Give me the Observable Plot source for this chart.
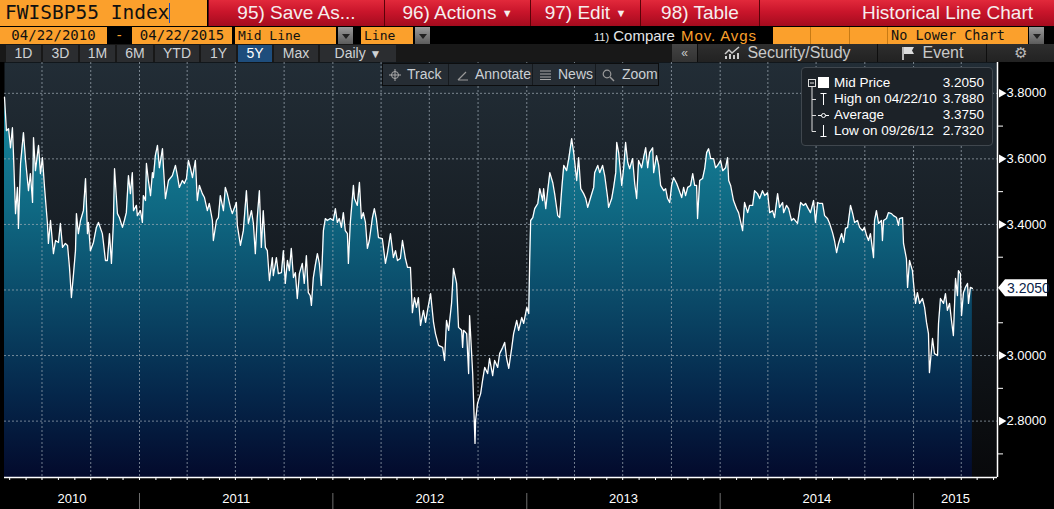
<!DOCTYPE html>
<html>
<head>
<meta charset="utf-8">
<script src="https://cdn.jsdelivr.net/npm/d3@7"></script>
<script src="https://cdn.jsdelivr.net/npm/@observablehq/plot@0.6"></script>
<style>
html,body{margin:0;padding:0;background:#000;}
body{position:relative;width:1054px;height:509px;overflow:hidden;font-family:"Liberation Sans",Arial,sans-serif;}
.a{position:absolute;box-sizing:border-box;white-space:nowrap;}
.org{background:#fba02c;color:#111;font-family:"DejaVu Sans Mono",monospace;top:27px;height:17px;line-height:17px;}
.red{top:0;height:26px;background:linear-gradient(#e2293b 0%,#c9152b 45%,#a50b1e 100%);color:#f6eeee;font-size:19px;line-height:26px;text-align:center;border-left:1px solid #5a0208;}
.dd{background:linear-gradient(#9a9a9a,#5c5c5c);height:17px;top:27px;width:15px;}
.dd::after{content:"";position:absolute;left:4px;top:7px;border-left:4px solid transparent;border-right:4px solid transparent;border-top:5px solid #222;}
.btn{top:45px;height:17px;background:#2b2d30;color:#cfd2d4;font-size:14px;line-height:17px;text-align:center;}
.rbtn{top:44px;height:18px;background:linear-gradient(#2e2e2e,#222);color:#c9c9c9;font-size:16px;line-height:18px;text-align:center;border-right:1px solid #0e0e0e;}
.tb{top:0;height:21px;line-height:21px;color:#cbd0d4;font-size:14px;}
.lg{font-size:13.5px;color:#fff;height:16px;line-height:16px;}
</style>
</head>
<body>
<svg width="0" height="0" style="position:absolute">
  <defs>
    <linearGradient id="bgGrad" x1="0" y1="0" x2="0" y2="1">
      <stop offset="0" stop-color="#222d36"/>
      <stop offset="0.5" stop-color="#151b21"/>
      <stop offset="1" stop-color="#08090b"/>
    </linearGradient>
    <linearGradient id="areaGrad" x1="0" y1="0" x2="0" y2="1">
      <stop offset="0" stop-color="#17889e"/>
      <stop offset="0.3" stop-color="#0f6882"/>
      <stop offset="0.55" stop-color="#0a4766"/>
      <stop offset="0.78" stop-color="#05274b"/>
      <stop offset="1" stop-color="#030a2c"/>
    </linearGradient>
  </defs>
</svg>

<!-- row 1 -->
<div class="a org" style="left:0;top:0;width:207px;height:26px;line-height:26px;font-size:19.5px;padding-left:5px;">FWISBP55 Index<span style="display:inline-block;width:1px;height:20px;background:#1a4fd0;vertical-align:-4px;"></span></div>
<div class="a red" style="left:208px;width:176px;">95) Save As...</div>
<div class="a red" style="left:384px;width:146px;">96) Actions <span style="font-size:11px;vertical-align:2px">▼</span></div>
<div class="a red" style="left:530px;width:110px;">97) Edit <span style="font-size:11px;vertical-align:2px">▼</span></div>
<div class="a red" style="left:640px;width:119px;">98) Table</div>
<div class="a red" style="left:759px;width:295px;text-align:right;padding-right:21px;">Historical Line Chart</div>

<!-- row 2 -->
<div class="a org" style="left:0;width:107px;font-size:14px;text-align:center;">04/22/2010</div>
<div class="a" style="left:115px;top:27px;height:17px;line-height:17px;color:#fba02c;font-size:14px;font-family:'DejaVu Sans Mono',monospace;">-</div>
<div class="a org" style="left:132px;width:100px;font-size:14px;text-align:center;">04/22/2015</div>
<div class="a org" style="left:235px;width:101px;font-size:13px;padding-left:3px;">Mid Line</div>
<div class="a dd" style="left:338px;"></div>
<div class="a org" style="left:361px;width:52px;font-size:13px;padding-left:3px;">Line</div>
<div class="a dd" style="left:415px;"></div>
<div class="a" style="left:594px;top:27px;height:17px;line-height:17px;color:#e4e6e8;font-size:15px;"><span style="font-size:11px">11)</span> Compare</div>
<div class="a" style="left:681px;top:27px;height:17px;line-height:17px;color:#fba02c;font-size:15px;letter-spacing:0.9px;">Mov. Avgs</div>
<div class="a org" style="left:773px;width:38px;border-right:1px solid #c77a14;"></div>
<div class="a org" style="left:811px;width:39px;border-right:1px solid #c77a14;"></div>
<div class="a org" style="left:850px;width:38px;border-right:1px solid #c77a14;"></div>
<div class="a org" style="left:888px;width:140px;font-size:13.5px;padding-left:3px;">No Lower Chart</div>
<div class="a dd" style="left:1029px;"></div>

<!-- row 3 -->
<div class="a" style="left:0;top:44px;width:1054px;height:18px;background:#181818;"></div>
<div class="a btn" style="left:6px;width:35px;">1D</div>
<div class="a btn" style="left:43px;width:35px;">3D</div>
<div class="a btn" style="left:80px;width:35px;">1M</div>
<div class="a btn" style="left:117px;width:36px;">6M</div>
<div class="a btn" style="left:155px;width:44px;">YTD</div>
<div class="a btn" style="left:201px;width:35px;">1Y</div>
<div class="a btn" style="left:238px;width:34px;background:#1e4d7c;color:#fff;">5Y</div>
<div class="a btn" style="left:274px;width:44px;">Max</div>
<div class="a btn" style="left:320px;width:76px;">Daily <span style="font-size:12px">▼</span></div>
<div class="a rbtn" style="left:672px;width:26px;background:linear-gradient(#444,#333);font-size:12px;">«</div>
<div class="a rbtn" style="left:698px;width:180px;">
  <svg width="18" height="13" style="vertical-align:-1px;margin-right:5px"><path d="M1,8 L5,4 L8,7 L15,1" stroke="#ccc" fill="none" stroke-width="1.5"/><rect x="1" y="10" width="2" height="3" fill="#ccc"/><rect x="5" y="8" width="2" height="5" fill="#ccc"/><rect x="9" y="9" width="2" height="4" fill="#ccc"/><rect x="13" y="7" width="2" height="6" fill="#ccc"/></svg>Security/Study</div>
<div class="a rbtn" style="left:878px;width:109px;">
  <svg width="14" height="14" style="vertical-align:-2px;margin-right:8px"><path d="M2,1 V14" stroke="#ddd" stroke-width="1.6"/><path d="M3,1 H13 L11,4.5 L13,8 H3 Z" fill="#ddd"/></svg>Event</div>
<div class="a rbtn" style="left:987px;width:67px;color:#bbb;font-size:15px;border-right:none;">⚙</div>

<!-- chart -->
<div id="chart" class="a" style="left:0;top:62px;"></div>

<!-- chart toolbar -->
<div class="a" style="left:382px;top:63px;width:277px;height:23px;background:#262d34;border:1px solid #0c0d0e;">
  <div class="a tb" style="left:0;width:66px;border-right:1px solid #161a1e;padding-left:24px;">Track</div>
  <svg class="a" style="left:6px;top:5px" width="12" height="12"><circle cx="6" cy="6" r="3.5" stroke="#aaa" fill="none"/><path d="M6,0V12M0,6H12" stroke="#aaa"/></svg>
  <div class="a tb" style="left:66px;width:84px;border-right:1px solid #161a1e;padding-left:26px;">Annotate</div>
  <svg class="a" style="left:74px;top:6px" width="12" height="11"><path d="M1,10 L9,2 M1,10 H11" stroke="#999" stroke-width="1.2" fill="none"/></svg>
  <div class="a tb" style="left:150px;width:63px;border-right:1px solid #161a1e;padding-left:25px;">News</div>
  <svg class="a" style="left:157px;top:6px" width="12" height="10"><path d="M0,1H11M0,4H11M0,7H11M0,9.5H11" stroke="#aaa"/></svg>
  <div class="a tb" style="left:213px;width:62px;padding-left:26px;">Zoom</div>
  <svg class="a" style="left:219px;top:5px" width="13" height="13"><circle cx="5" cy="5" r="3.8" stroke="#999" fill="none" stroke-width="1.2"/><path d="M8,8 L12,12" stroke="#999" stroke-width="1.5"/></svg>
</div>

<!-- legend -->
<div id="legend" class="a" style="left:801px;top:67px;width:192px;height:79px;background:#1c2228;border:1px solid #40474e;border-radius:4px;">
  <svg class="a" style="left:0;top:0" width="190" height="77">
    <rect x="6.5" y="11.5" width="7" height="7" fill="none" stroke="#ddd"/>
    <path d="M8,15H12" stroke="#ddd"/>
    <path d="M10,19V63.5H14M10,31.5H14M10,47.5H14" stroke="#ddd" fill="none"/>
    <rect x="16" y="9" width="11" height="11" fill="#fff"/>
    <path d="M21.5,25V37M18.5,25.5H24.5" stroke="#fff" fill="none"/>
    <path d="M16,47.5H27" stroke="#fff"/><circle cx="21.5" cy="47.5" r="2" fill="#1c2228" stroke="#fff"/>
    <path d="M21.5,57V69M18.5,68.5H24.5" stroke="#fff" fill="none"/>
  </svg>
</div>

<script>
// ---- data: FWISBP55 Index mid price (decimal year, value) ----
const obsYear = [
2010.302,2010.312,2010.323,2010.333,2010.343,2010.349,2010.359,2010.369,2010.374,2010.385,
2010.400,2010.411,2010.426,2010.436,2010.447,2010.452,2010.462,2010.478,2010.488,2010.498,
2010.509,2010.524,2010.529,2010.540,2010.555,2010.566,2010.581,2010.591,2010.602,2010.617,
2010.628,2010.638,2010.648,2010.659,2010.669,2010.674,2010.684,2010.695,2010.710,2010.721,
2010.731,2010.736,2010.746,2010.762,2010.777,2010.788,2010.808,2010.814,2010.824,2010.834,
2010.845,2010.855,2010.865,2010.871,2010.886,2010.896,2010.912,2010.922,2010.932,2010.943,
2010.953,2010.963,2010.969,2010.984,2010.989,
2011.005,2011.015,2011.020,2011.031,2011.036,2011.046,2011.057,2011.067,2011.072,2011.082,
2011.093,2011.103,2011.119,2011.124,2011.134,2011.150,2011.170,2011.186,2011.196,2011.206,
2011.222,2011.232,2011.243,2011.253,2011.263,2011.274,2011.289,2011.299,2011.310,2011.325,
2011.336,2011.351,2011.361,2011.377,2011.382,2011.398,2011.408,2011.418,2011.434,2011.444,
2011.454,2011.470,2011.480,2011.501,2011.506,2011.522,2011.537,2011.553,2011.563,2011.579,
2011.589,2011.599,2011.609,2011.620,2011.630,2011.640,2011.651,2011.661,2011.672,2011.687,
2011.692,2011.708,2011.718,2011.734,2011.744,2011.754,2011.765,2011.775,2011.785,2011.796,
2011.806,2011.816,2011.827,2011.842,2011.852,2011.863,2011.873,2011.883,2011.889,2011.899,
2011.909,2011.920,2011.930,2011.940,2011.951,2011.961,2011.971,2011.987,
2012.002,2012.013,2012.023,2012.033,2012.044,2012.054,2012.064,2012.075,2012.080,2012.090,
2012.106,2012.111,2012.126,2012.137,2012.147,2012.157,2012.168,2012.178,2012.188,2012.204,
2012.214,2012.224,2012.235,2012.255,2012.271,2012.281,2012.297,2012.312,2012.323,2012.333,
2012.348,2012.359,2012.374,2012.385,2012.400,2012.410,2012.421,2012.431,2012.441,2012.452,
2012.467,2012.478,2012.488,2012.504,2012.519,2012.529,2012.545,2012.566,2012.576,2012.586,
2012.597,2012.612,2012.622,2012.638,2012.648,2012.664,2012.669,2012.674,2012.690,2012.700,
2012.705,2012.721,2012.733,2012.736,2012.746,2012.762,2012.772,2012.783,2012.798,2012.808,
2012.824,2012.834,2012.850,2012.860,2012.876,2012.886,2012.896,2012.907,2012.922,2012.932,
2012.948,2012.958,2012.974,2012.984,
2013.000,2013.010,2013.015,2013.020,2013.031,2013.041,2013.057,2013.067,2013.082,2013.087,
2013.098,2013.108,2013.119,2013.134,2013.144,2013.160,2013.170,2013.180,2013.191,2013.206,
2013.217,2013.232,2013.243,2013.258,2013.268,2013.279,2013.294,2013.305,2013.315,2013.330,
2013.346,2013.351,2013.367,2013.377,2013.392,2013.403,2013.418,2013.423,2013.439,2013.449,
2013.460,2013.465,2013.475,2013.491,2013.501,2013.511,2013.522,2013.532,2013.547,2013.558,
2013.568,2013.578,2013.594,2013.604,2013.615,2013.625,2013.635,2013.651,2013.656,2013.671,
2013.682,2013.692,2013.708,2013.718,2013.728,2013.739,2013.749,2013.759,2013.775,2013.785,
2013.801,2013.811,2013.821,2013.832,2013.847,2013.858,2013.868,2013.878,2013.883,2013.894,
2013.909,2013.920,2013.930,2013.940,2013.951,2013.966,2013.976,2013.987,
2014.002,2014.013,2014.028,2014.038,2014.044,2014.054,2014.069,2014.085,2014.095,2014.116,
2014.126,2014.142,2014.152,2014.168,2014.178,2014.193,2014.204,2014.219,2014.230,2014.245,
2014.256,2014.271,2014.281,2014.297,2014.307,2014.323,2014.328,2014.343,2014.354,2014.369,
2014.380,2014.400,2014.416,2014.431,2014.442,2014.452,2014.467,2014.483,2014.493,2014.504,
2014.514,2014.529,2014.540,2014.555,2014.566,2014.581,2014.591,2014.602,2014.612,2014.628,
2014.638,2014.648,2014.659,2014.674,2014.684,2014.695,2014.710,2014.721,2014.736,2014.746,
2014.757,2014.767,2014.777,2014.793,2014.798,2014.808,2014.819,2014.834,2014.839,2014.845,
2014.860,2014.870,2014.886,2014.896,2014.912,2014.922,2014.927,2014.943,2014.948,2014.963,
2014.969,2014.979,2014.994,
2015.000,2015.010,2015.020,2015.031,2015.046,2015.057,2015.067,2015.077,2015.082,2015.098,
2015.108,2015.124,2015.129,2015.139,2015.155,2015.165,2015.175,2015.186,2015.196,2015.206,
2015.217,2015.227,2015.232,2015.242,2015.248,2015.258,2015.268,2015.279,2015.284,2015.294,
2015.304
];
const midPrice = [
3.788,3.686,3.692,3.634,3.695,3.604,3.433,3.513,3.388,3.586,
3.680,3.595,3.503,3.555,3.467,3.665,3.564,3.641,3.555,3.604,
3.513,3.403,3.342,3.412,3.311,3.351,3.345,3.403,3.330,3.342,
3.336,3.269,3.177,3.250,3.320,3.433,3.372,3.412,3.442,3.540,
3.372,3.406,3.320,3.345,3.391,3.406,3.372,3.342,3.290,3.290,
3.372,3.281,3.403,3.570,3.433,3.421,3.391,3.412,3.436,3.549,
3.494,3.558,3.442,3.458,3.427,
3.442,3.406,3.488,3.473,3.586,3.534,3.488,3.558,3.543,3.610,
3.641,3.573,3.631,3.573,3.479,3.534,3.549,3.580,3.549,3.513,
3.534,3.525,3.540,3.595,3.573,3.543,3.595,3.473,3.519,3.494,
3.482,3.442,3.464,3.412,3.351,3.412,3.421,3.488,3.442,3.513,
3.494,3.452,3.433,3.467,3.397,3.336,3.381,3.503,3.403,3.442,
3.403,3.311,3.421,3.503,3.330,3.442,3.330,3.320,3.229,3.299,
3.244,3.299,3.250,3.253,3.320,3.220,3.290,3.259,3.327,3.238,
3.253,3.174,3.250,3.281,3.220,3.305,3.192,3.183,3.153,3.238,
3.275,3.311,3.281,3.214,3.381,3.418,3.412,3.418,
3.412,3.448,3.406,3.418,3.391,3.436,3.381,3.372,3.281,3.406,
3.519,3.479,3.458,3.528,3.418,3.436,3.406,3.327,3.351,3.421,
3.448,3.418,3.360,3.357,3.281,3.311,3.372,3.299,3.320,3.290,
3.296,3.351,3.296,3.269,3.269,3.131,3.177,3.147,3.177,3.092,
3.138,3.101,3.138,3.189,3.101,3.067,3.031,3.025,2.985,3.107,
3.077,3.159,3.266,3.220,3.086,3.077,3.025,3.077,3.067,2.945,
3.122,2.945,2.732,2.802,2.854,2.884,2.924,2.964,2.945,2.991,
2.939,2.985,2.964,3.006,3.025,3.040,2.991,2.961,3.022,3.067,
3.107,3.077,3.116,3.098,
3.147,3.128,3.290,3.412,3.421,3.448,3.464,3.509,3.473,3.509,
3.448,3.503,3.558,3.528,3.494,3.427,3.421,3.503,3.580,3.564,
3.601,3.662,3.616,3.534,3.604,3.509,3.494,3.479,3.452,3.482,
3.513,3.558,3.580,3.558,3.580,3.549,3.482,3.452,3.479,3.513,
3.558,3.650,3.619,3.519,3.573,3.650,3.589,3.570,3.601,3.525,
3.479,3.595,3.573,3.604,3.634,3.573,3.619,3.634,3.558,3.610,
3.580,3.519,3.503,3.509,3.479,3.467,3.519,3.543,3.525,3.509,
3.482,3.513,3.488,3.513,3.519,3.555,3.519,3.519,3.418,3.534,
3.540,3.570,3.619,3.631,3.601,3.601,3.573,3.580,
3.595,3.564,3.573,3.604,3.534,3.519,3.473,3.448,3.436,3.381,
3.467,3.436,3.458,3.458,3.503,3.494,3.479,3.503,3.488,3.497,
3.436,3.442,3.421,3.494,3.452,3.467,3.436,3.458,3.448,3.412,
3.418,3.403,3.467,3.458,3.464,3.452,3.436,3.473,3.406,3.467,
3.464,3.464,3.427,3.418,3.403,3.375,3.351,3.314,3.342,3.372,
3.345,3.388,3.391,3.458,3.436,3.406,3.412,3.391,3.381,3.391,
3.366,3.351,3.372,3.299,3.412,3.442,3.403,3.412,3.351,3.412,
3.418,3.436,3.433,3.427,3.421,3.397,3.418,3.421,3.342,3.296,
3.208,3.290,3.259,
3.220,3.159,3.192,3.159,3.174,3.147,3.101,3.067,2.948,3.052,
3.006,3.000,3.098,3.174,3.159,3.189,3.138,3.159,3.107,3.061,
3.235,3.183,3.259,3.250,3.122,3.192,3.208,3.220,3.159,3.208,
3.205
];

// axis / labels
const yMajorTicks = [2.8, 3.0, 3.2, 3.4, 3.6, 3.8];
const yMinorTicks = [2.7, 2.9, 3.1, 3.3, 3.5, 3.7];
const yearLabels = [2010, 2011, 2012, 2013, 2014, 2015];
const xStartYear = 2010.302, xEndYear = 2015.434;
const yLow = 2.628, yHigh = 3.894;
const lastPrice = 3.2050;
const legendLabels = ["Mid Price", "High on 04/22/10", "Average", "Low on 09/26/12"];
const legendValues = [3.2050, 3.7880, 3.3750, 2.7320];

function yearToDate(t) {
  const y = Math.floor(t);
  const a = Date.UTC(y, 0, 1), b = Date.UTC(y + 1, 0, 1);
  return new Date(a + (t - y) * (b - a));
}

const data = obsYear.map((t, i) => ({date: yearToDate(t), v: midPrice[i]}));
const x0 = yearToDate(xStartYear), x1 = yearToDate(xEndYear);
const yearStarts = yearLabels.slice(1).map(y => new Date(Date.UTC(y, 0, 1)));
const yearMid = yearLabels.map(y => {
  const a = Math.max(Date.UTC(y, 0, 1), +x0), b = Math.min(Date.UTC(y + 1, 0, 1), +x1);
  return {year: String(y), date: new Date((a + b) / 2)};
});
// the live price tag replaces the nearby major label
const labelTicks = yMajorTicks.filter(v => Math.abs(v - lastPrice) > 0.03);

function lastPriceTag(index, scales, values, dimensions) {
  const y = scales.y(lastPrice);
  const x = dimensions.width - dimensions.marginRight;
  const g = d3.create("svg:g");
  g.append("path")
    .attr("d", `M${x + 1},${y}L${x + 8},${y - 8.5}H${x + 50}V${y + 8.5}H${x + 8}Z`)
    .attr("fill", "#fff");
  g.append("text")
    .attr("x", x + 10).attr("y", y).attr("dy", "0.36em")
    .attr("text-anchor", "start")
    .attr("fill", "#0b1f4a").attr("font-size", 14)
    .text(lastPrice.toFixed(4));
  return g.node();
}

const gridStyle = {stroke: "#a3aeb8", strokeOpacity: 0.7, strokeDasharray: "2,2"};

const chart = Plot.plot({
  width: 1054,
  height: 447,
  marginTop: 0,
  marginRight: 57,
  marginBottom: 32,
  marginLeft: 4,
  style: {background: "transparent", color: "#fff", fontFamily: "'Liberation Sans', Arial, sans-serif", overflow: "visible"},
  x: {type: "utc", domain: [x0, x1], axis: null, label: null},
  y: {domain: [yLow, yHigh], axis: null, label: null},
  marks: [
    Plot.frame({fill: "url(#bgGrad)", stroke: "none"}),
    Plot.areaY(data, {x: "date", y1: yLow, y2: "v", fill: "url(#areaGrad)"}),
    Plot.gridY({ticks: yMajorTicks, ...gridStyle}),
    Plot.gridX({ticks: "3 months", ...gridStyle}),
    Plot.lineY(data, {x: "date", y: "v", stroke: "#ffffff", strokeWidth: 1.3}),
    Plot.ruleY([yLow], {stroke: "#fff", strokeWidth: 1.5}),
    Plot.ruleX([x1], {stroke: "#fff", strokeWidth: 1.5}),
    Plot.axisX({ticks: "month", tickSize: 3, tickFormat: () => "", stroke: "#fff", label: null}),
    Plot.ruleX(yearStarts, {insetTop: 431, insetBottom: -32, stroke: "#6e6e6e"}),
    Plot.text(yearMid, {x: "date", text: "year", frameAnchor: "bottom", dy: 25, fill: "#fff", fontSize: 13}),
    Plot.axisY({anchor: "right", ticks: yMinorTicks, tickSize: 5, tickFormat: () => "", stroke: "#fff", label: null}),
    Plot.dot(labelTicks, {y: d => d, frameAnchor: "right", dx: 4, symbol: "triangle", rotate: 90, r: 3.2, fill: "#fff", stroke: "none"}),
    Plot.text(labelTicks, {y: d => d, text: d => d.toFixed(4), frameAnchor: "right", dx: 9, textAnchor: "start", fill: "#fff", fontSize: 13}),
    lastPriceTag
  ]
});
document.getElementById("chart").appendChild(chart);

// legend rows
const legend = document.getElementById("legend");
legendLabels.forEach((label, i) => {
  const top = 7 + i * 16;
  const l = document.createElement("div");
  l.className = "a lg"; l.style.left = "32px"; l.style.top = top + "px"; l.textContent = label;
  const r = document.createElement("div");
  r.className = "a lg"; r.style.right = "8px"; r.style.top = top + "px"; r.textContent = legendValues[i].toFixed(4);
  legend.appendChild(l); legend.appendChild(r);
});
</script>
</body>
</html>
